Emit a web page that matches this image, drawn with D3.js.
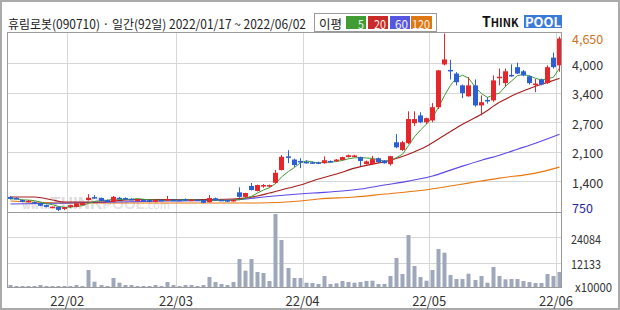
<!DOCTYPE html>
<html>
<head>
<meta charset="utf-8">
<script src="https://cdn.jsdelivr.net/npm/d3@7"></script>
<style>
  body { margin: 0; background: #fff; }
  text { font-family: "Noto Sans CJK KR", "Noto Sans", sans-serif; }
</style>
</head>
<body>
<svg id="chart"></svg>
<script>
// daily candles, 2022/01/17 ~ 2022/06/02 (92 trading days)
const opens  = [1060,1035,990,960,945,925,880,830,840,795, 840,840,880,990,1055,1035,990,950,1040,1035,
                1015,970,995,990,950,995,990,1000,995,1010, 995,1000,990,945,1030,995,990,960,1160,1060,
                1300,1190,1290,1285,1370,1650,1950,1880,1850,1830, 1820,1820,1800,1850,1845,1870,1935,1940,1935,1780,
                1780,1910,1860,1780,2260,2090,2240,2680,2850,2700, 2740,3030,3970,3850,3770,3510,3270,3510,3070,3190,
                3180,3670,3560,3740,3910,3820,3710,3520,3640,3560, 4120,3950];
const highs  = [1080,1050,1000,990,960,935,890,850,850,840, 885,930,935,1120,1100,1045,1000,1080,1060,1050,
                1030,1020,1005,1000,995,1005,1080,1010,1005,1025, 1010,1010,1000,1100,1045,1005,1000,1000,1270,1150,
                1365,1330,1340,1330,1650,1980,2085,1900,1910,1860, 1840,1835,1950,1860,1890,1945,1990,1985,1945,1860,
                1960,1925,1870,1965,2440,2290,2940,2940,2920,2800, 3120,3850,4650,4070,3800,3530,3690,3640,3290,3250,
                3730,3880,3880,3970,4010,3850,3730,3650,3660,3950, 4230,4580];
const lows   = [1000,1010,940,940,915,855,830,810,750,770, 820,830,870,980,1020,960,945,940,1010,1010,
                1000,960,975,940,940,975,980,980,975,985, 985,980,920,935,980,975,945,950,1040,1050,
                1200,1180,1260,1270,1350,1640,1800,1720,1690,1790, 1790,1780,1790,1810,1830,1860,1925,1930,1740,1770,
                1770,1810,1790,1750,2130,2070,2220,2620,2680,2660, 2700,2990,3950,3640,3510,3230,3260,3040,2850,3110,
                3150,3510,3480,3700,3760,3710,3530,3360,3510,3540, 3880,3810];
const closes = [1015,1020,950,975,925,865,840,845,775,835, 880,920,925,1040,1035,970,950,1060,1015,1015,
                1010,1010,990,950,990,985,1010,995,985,995, 1000,990,930,1035,990,990,955,995,1060,1145,
                1210,1320,1320,1320,1590,1940,1925,1760,1830,1805, 1810,1800,1865,1830,1880,1935,1975,1970,1850,1840,
                1890,1825,1800,1955,2150,2260,2770,2770,2700,2790, 3030,3840,4080,3830,3580,3340,3510,3070,3140,3170,
                3620,3700,3820,3720,3770,3730,3560,3550,3530,3910, 3910,4540];
// volume, x10000 shares
const volumes = [1430,950,950,950,950,1430,950,950,950,950, 950,1430,950,8570,3000,1430,950,4760,2520,1430,
                 1430,950,950,950,1430,950,2860,1430,950,1430, 1430,950,1430,5240,2860,1900,1430,2860,13800,8240,
                 13800,7620,7140,3330,35250,22860,9530,4760,4760,2520, 2380,1900,5720,1900,2240,3330,2860,2520,2860,3330,
                 3480,1900,1900,5720,14290,6670,25240,10480,5240,3480, 8570,18580,16810,6190,4290,4290,6810,3810,5720,2520,
                 10000,5720,4140,4290,4290,3330,2860,2380,2380,6670, 5720,7620];

// moving averages: [day index, price]
const ma20 = [[0,1057],[4,1057],[7,991],[9,947],[15,947],[20,1000],[31,1000],[37,1013],[41,1079],[43,1144],
              [46,1254],[48,1320],[51,1451],[54,1561],[57,1692],[60,1780],[63,1867],[66,1999],[69,2174],[72,2415],
              [75,2656],[78,2875],[81,3138],[84,3335],[87,3489],[89,3576],[91,3664]];
const ma60 = [[0,903],[10,925],[26,969],[37,991],[42,1057],[50,1144],[55,1188],[58,1232],[62,1320],[66,1407],
              [70,1517],[73,1648],[75,1736],[78,1867],[81,1977],[84,2108],[87,2240],[91,2437]];
const ma120 = [[0,969],[10,925],[41,925],[48,969],[51,1013],[57,1057],[62,1122],[68,1199],[73,1298],[76,1363],
               [81,1473],[87,1583],[91,1714]];

const monthIdx = [10, 28, 49, 70, 91];
const monthLabels = ["22/02", "22/03", "22/04", "22/05", "22/06"];
const priceTicks = [4650, 4000, 3350, 2700, 2050, 1400, 750];
const priceLabels = ["4,650", "4,000", "3,400", "2,700", "2,100", "1,400", "750"];
const volTicks = [12133, 24084];
const volLabels = ["12133", "24084"];

const legendNames = ["5", "20", "60", "120"];
const legendColors = ["#3f9d33", "#c92b27", "#5656e0", "#df7812"];

const W = 620, H = 310;
const plotL = 7, plotR = 562, plotT = 32, plotMid = 212, plotB = 288;

const svg = d3.select('#chart').attr('width', W).attr('height', H);

svg.append('rect').attr('width', W).attr('height', H).attr('fill', '#fff');
svg.append('rect').attr('x', 1).attr('y', 1).attr('width', W - 2).attr('height', H - 2)
  .attr('fill', 'none').attr('stroke', '#aaa').attr('stroke-width', 2);

const x = d3.scaleBand().domain(d3.range(closes.length)).range([plotL, plotR]);
const cx = i => Math.round(x(i) + x.bandwidth() / 2);
const y = d3.scaleLinear().domain([750, 4650]).range([211, 33.5]);
const yv = d3.scaleLinear().domain([0, 36200]).range([plotB, plotMid]);

// grid
const grid = svg.append('g').attr('stroke', '#d6d6d6').attr('stroke-width', 1);
grid.selectAll('.vg').data(monthIdx).enter().append('line')
  .attr('x1', d => Math.round(x(d)) + 0.5).attr('x2', d => Math.round(x(d)) + 0.5)
  .attr('y1', plotT).attr('y2', plotB);
grid.selectAll('.hg').data(priceTicks.slice(1, -1)).enter().append('line')
  .attr('x1', plotL).attr('x2', plotR)
  .attr('y1', d => Math.round(y(d)) + 0.5).attr('y2', d => Math.round(y(d)) + 0.5);
grid.selectAll('.hv').data(volTicks).enter().append('line')
  .attr('x1', plotL).attr('x2', plotR)
  .attr('y1', d => Math.round(yv(d)) + 0.5).attr('y2', d => Math.round(yv(d)) + 0.5);

// watermark
const wm = svg.append('text').attr('x', 22).attr('y', 209).attr('fill', '#cfcfcf').attr('opacity', 0.7)
  .attr('font-weight', 'bold');
wm.append('tspan').attr('font-size', 10).text('www.');
wm.append('tspan').attr('font-size', 17).attr('font-family', 'Arial, Liberation Sans').text('THINK');
wm.append('tspan').attr('font-size', 15).attr('font-family', 'Arial, Liberation Sans').attr('fill', '#dadada').text('POOL');
wm.append('tspan').attr('font-size', 11).attr('font-weight', 'normal').text('.com');

// moving averages
const lineMa = d3.line().x(d => cx(d[0]) + 0.5).y(d => y(d[1])).curve(d3.curveMonotoneX);
[[ma120, '#e8760c'], [ma60, '#5b48e6'], [ma20, '#a51d1d']].forEach(([pts, col]) => {
  svg.append('path').datum(pts).attr('d', lineMa)
    .attr('fill', 'none').attr('stroke', col).attr('stroke-width', 1.1);
});
const ma5 = closes.map((c, i) => [i, d3.mean(closes.slice(Math.max(0, i - 4), i + 1))]);
svg.append('path').datum(ma5).attr('d', d3.line().x(d => cx(d[0]) + 0.5).y(d => y(d[1])))
  .attr('fill', 'none').attr('stroke', '#3f9d33').attr('stroke-width', 1);

// candles
const up = '#e5262b', down = '#2c5fd3';
const candles = svg.append('g').selectAll('g').data(closes.map((c, i) => i)).enter().append('g')
  .attr('fill', i => closes[i] >= opens[i] ? up : down)
  .attr('stroke', i => closes[i] >= opens[i] ? up : down);
candles.append('line')
  .attr('x1', i => cx(i) + 0.5).attr('x2', i => cx(i) + 0.5)
  .attr('y1', i => y(highs[i])).attr('y2', i => y(lows[i]));
candles.append('rect')
  .attr('stroke', 'none')
  .attr('x', i => cx(i) - 2).attr('width', 5)
  .attr('y', i => Math.min(y(opens[i]), y(closes[i])))
  .attr('height', i => Math.max(1.5, Math.abs(y(opens[i]) - y(closes[i]))));

// volume
svg.append('g').selectAll('rect').data(volumes).enter().append('rect')
  .attr('x', (d, i) => cx(i) - 1.5).attr('width', 4)
  .attr('y', d => yv(d)).attr('height', d => plotB - yv(d))
  .attr('fill', '#9fa7bb');

// frames
svg.append('rect').attr('x', plotL + 0.5).attr('y', plotT + 0.5)
  .attr('width', plotR - plotL - 1).attr('height', plotB - plotT - 1)
  .attr('fill', 'none').attr('stroke', '#9a9a9a');
svg.append('line').attr('x1', plotL).attr('x2', plotR).attr('y1', plotMid + 0.5).attr('y2', plotMid + 0.5)
  .attr('stroke', '#9a9a9a');

// price axis labels
svg.append('g').selectAll('text').data(priceTicks).enter().append('text')
  .attr('x', 572)
  .attr('y', (d, i) => i === 0 ? y(d) + 4.5 : i === priceTicks.length - 1 ? y(d) - 4 : y(d) + 1)
  .attr('dominant-baseline', 'central')
  .attr('font-size', 12.5)
  .attr('fill', (d, i) => i === 0 ? '#d0701a' : i === priceTicks.length - 1 ? '#2424a0' : '#333')
  .text((d, i) => priceLabels[i]);

svg.append('g').selectAll('text').data(volTicks).enter().append('text')
  .attr('x', 571).attr('y', d => yv(d) + 1)
  .attr('dominant-baseline', 'central').attr('font-size', 12.5).attr('fill', '#333')
  .attr('textLength', 30).attr('lengthAdjust', 'spacingAndGlyphs')
  .text((d, i) => volLabels[i]);
svg.append('text').attr('x', 575).attr('y', 286).attr('dominant-baseline', 'central')
  .attr('font-size', 12.5).attr('fill', '#333')
  .attr('textLength', 37).attr('lengthAdjust', 'spacingAndGlyphs').text('x10000');

// month labels
svg.append('g').selectAll('text').data(monthIdx).enter().append('text')
  .attr('x', d => x(d)).attr('y', 300)
  .attr('text-anchor', 'middle').attr('dominant-baseline', 'central')
  .attr('font-size', 13).attr('fill', '#333')
  .text((d, i) => monthLabels[i]);

// header
svg.append('text').attr('x', 8).attr('y', 23).attr('dominant-baseline', 'central')
  .attr('font-size', 12.5).attr('fill', '#222')
  .attr('textLength', 298).attr('lengthAdjust', 'spacingAndGlyphs')
  .text('휴림로봇(090710) · 일간(92일) 2022/01/17 ~ 2022/06/02');

// legend
svg.append('rect').attr('x', 314.5).attr('y', 13.5).attr('width', 122).attr('height', 18)
  .attr('fill', '#fff').attr('stroke', '#999');
svg.append('text').attr('x', 319).attr('y', 23).attr('dominant-baseline', 'central')
  .attr('font-size', 12.5).attr('fill', '#222').text('이평');
const legW = [20, 20, 20, 21], legX = [346, 368, 390, 411];
const legTL = [6, 12, 13, 18];
legendNames.forEach((n, i) => {
  svg.append('rect').attr('x', legX[i]).attr('y', 16).attr('width', legW[i]).attr('height', 13)
    .attr('fill', legendColors[i]);
  svg.append('text').attr('x', legX[i] + legW[i] - 2 - legTL[i]).attr('y', 23)
    .attr('dominant-baseline', 'central').attr('font-size', 12).attr('fill', '#f4f4f4')
    .attr('textLength', legTL[i]).attr('lengthAdjust', 'spacingAndGlyphs').text(n);
});

// logo
const logo = svg.append('text').attr('x', 482).attr('y', 27).attr('font-weight', 'bold')
  .attr('font-family', 'Arial, Liberation Sans').attr('fill', '#111');
logo.append('tspan').attr('font-size', 14).text('T');
logo.append('tspan').attr('font-size', 11).text('HINK');
svg.append('rect').attr('x', 524).attr('y', 15).attr('width', 38).attr('height', 13).attr('fill', '#3a7ad8');
svg.append('text').attr('x', 543).attr('y', 27).attr('text-anchor', 'middle')
  .attr('font-family', 'Arial, Liberation Sans').attr('font-weight', 'bold').attr('font-size', 13)
  .attr('fill', '#fff').text('POOL');
</script>
</body>
</html>
